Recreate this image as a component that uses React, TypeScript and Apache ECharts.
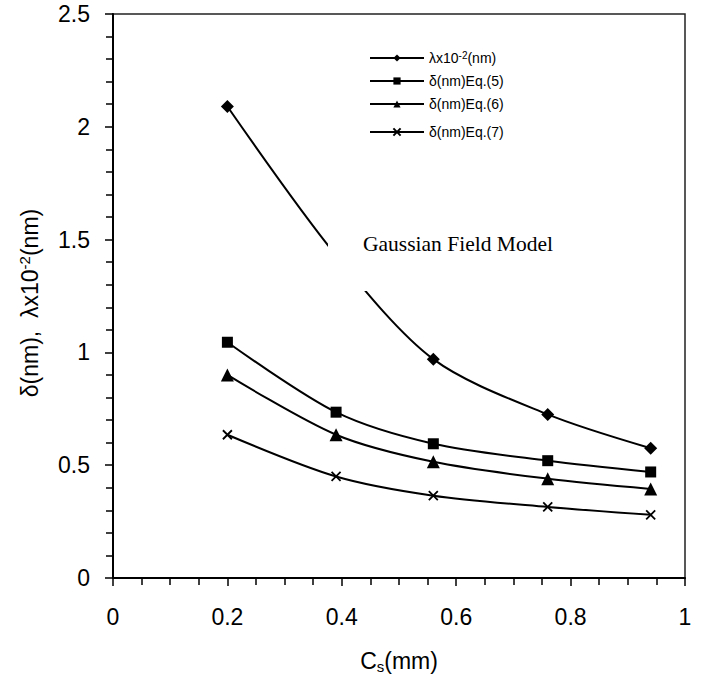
import React, { useEffect, useRef } from "react";
import * as echarts from "echarts";

const xValues = [0.2, 0.39, 0.56, 0.76, 0.94];
const lambdaValues = [2.09, 1.43, 0.97, 0.725, 0.575];
const eq5Values = [1.045, 0.735, 0.595, 0.52, 0.47];
const eq6Values = [0.9, 0.635, 0.515, 0.44, 0.395];
const eq7Values = [0.635, 0.45, 0.365, 0.315, 0.28];
const seriesNames = ["λx10-2(nm)", "δ(nm)Eq.(5)", "δ(nm)Eq.(6)", "δ(nm)Eq.(7)"];
const xTicks = { min: 0, max: 1, interval: 0.2 };
const yTicks = { min: 0, max: 2.5, interval: 0.5 };

const SANS = "'Liberation Sans', Arial, Helvetica, sans-serif";
const SERIF = "'Liberation Serif', 'Times New Roman', serif";

export default function App() {
  const ref = useRef<HTMLDivElement>(null);
  useEffect(() => {
    if (!ref.current) return;
    const chart = echarts.init(ref.current, undefined, { renderer: "svg" });
    const pair = (vals: number[]) => xValues.map((x, i) => [x, vals[i]]);
    const symbols = ["diamond", "rect", "triangle", "path://M0,0L10,10M0,10L10,0"];
    const sizes = [13, 11, 13, 9];
    const allVals = [lambdaValues, eq5Values, eq6Values, eq7Values];
    const legendCenters = [57, 81, 104, 132];
    const series = seriesNames.map((name, i) => ({
      name,
      type: "line",
      data: pair(allVals[i]),
      smooth: 0.3,
      symbol: symbols[i],
      symbolSize: sizes[i],
      showSymbol: true,
      lineStyle: { color: "#000", width: 2 },
      itemStyle: { color: "#000", borderColor: "#000", borderWidth: i === 3 ? 1.8 : 0 },
      z: 3,
    }));
    const legends = seriesNames.map((name, i) => ({
      data: [name],
      left: 369,
      top: legendCenters[i] - 7,
      padding: 0,
      itemWidth: 54,
      itemHeight: 9,
      itemGap: 5,
      formatter: (n: string) =>
        n === seriesNames[0] ? "{a|λx10}{sup|-2}{a|(nm)}" : "{a|" + n + "}",
      textStyle: {
        color: "#000",
        fontFamily: SANS,
        fontSize: 14,
        rich: {
          a: { fontSize: 14, fontFamily: SANS, color: "#000", lineHeight: 16 },
          sup: { fontSize: 10, fontFamily: SANS, color: "#000", lineHeight: 10, padding: [0, 0, 6, 0] },
        },
      },
      selectedMode: false,
    }));
    chart.setOption({
      animation: false,
      backgroundColor: "#fff",
      grid: {
        left: 113,
        top: 14,
        right: 709 - 685,
        bottom: 689 - 578,
        show: true,
        borderColor: "#222",
        borderWidth: 1.5,
        backgroundColor: "transparent",
      },
      legend: legends,
      xAxis: {
        type: "value",
        min: xTicks.min,
        max: xTicks.max,
        interval: xTicks.interval,
        axisLine: { show: true, lineStyle: { color: "#000", width: 2 } },
        axisTick: { show: true, length: 8, lineStyle: { color: "#000", width: 1.5 } },
        minorTick: { show: true, splitNumber: 4, length: 7, lineStyle: { color: "#000", width: 1.5 } },
        splitLine: { show: false },
        axisLabel: { color: "#000", fontSize: 23, fontFamily: SANS, margin: 27 },
      },
      yAxis: {
        type: "value",
        min: yTicks.min,
        max: yTicks.max,
        interval: yTicks.interval,
        axisLine: { show: true, lineStyle: { color: "#000", width: 2 } },
        axisTick: { show: true, length: 8, lineStyle: { color: "#000", width: 1.5 } },
        minorTick: { show: true, splitNumber: 5, length: 7, lineStyle: { color: "#000", width: 1.5 } },
        splitLine: { show: false },
        axisLabel: { color: "#000", fontSize: 23, fontFamily: SANS, margin: 23 },
      },
      series,
      graphic: [
        {
          type: "rect",
          z: 100,
          shape: { x: 328, y: 196, width: 270, height: 95 },
          style: { fill: "#fff" },
          silent: true,
        },
        {
          type: "text",
          z: 101,
          x: 363,
          y: 244,
          style: {
            text: "Gaussian Field Model",
            fill: "#000",
            font: "21.5px " + SERIF,
            textAlign: "left",
            textVerticalAlign: "middle",
          },
          silent: true,
        },
        {
          type: "text",
          z: 101,
          x: 30,
          y: 303,
          rotation: Math.PI / 2,
          style: {
            text: "{a|δ(nm),  λx10}{sup|-2}{a|(nm)}",
            fill: "#000",
            textAlign: "center",
            textVerticalAlign: "middle",
            rich: {
              a: { fontSize: 23, fontFamily: SANS, fill: "#000", lineHeight: 26 },
              sup: { fontSize: 15, fontFamily: SANS, fill: "#000", lineHeight: 15, padding: [0, 0, 11, 0] },
            },
          },
          silent: true,
        },
        {
          type: "text",
          z: 101,
          x: 399,
          y: 661,
          style: {
            text: "{a|C}{sub|s}{a|(mm)}",
            fill: "#000",
            textAlign: "center",
            textVerticalAlign: "middle",
            rich: {
              a: { fontSize: 23, fontFamily: SANS, fill: "#000", lineHeight: 26 },
              sub: { fontSize: 15, fontFamily: SANS, fill: "#000", lineHeight: 15, padding: [11, 0, 0, 0] },
            },
          },
          silent: true,
        },
      ],
    });
    return () => chart.dispose();
  }, []);
  return (
    <div
      ref={ref}
      style={{ position: "fixed", left: 0, top: 0, width: 709, height: 689, background: "#fff" }}
    />
  );
}
